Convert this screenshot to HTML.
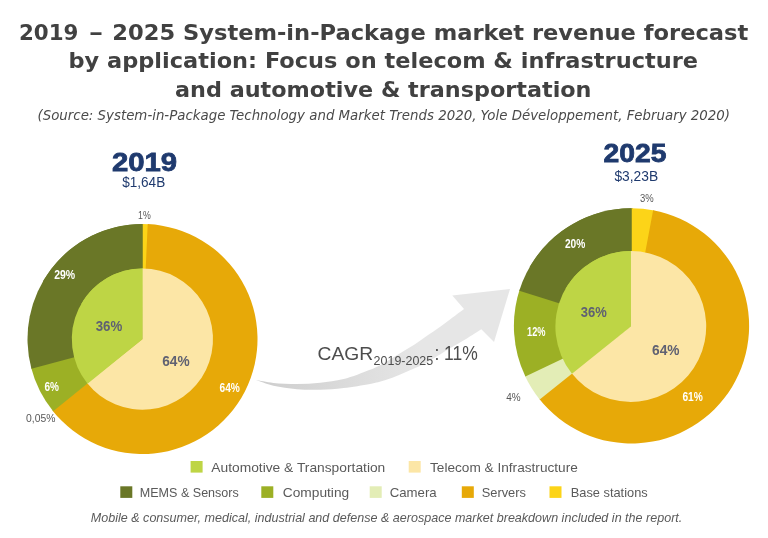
<!DOCTYPE html>
<html lang="en"><head><meta charset="utf-8"><title>System-in-Package market revenue forecast</title>
<style>
html,body{margin:0;padding:0;background:#fff;}
body{width:768px;height:538px;overflow:hidden;font-family:"Liberation Sans",sans-serif;}
svg{display:block;will-change:transform;}
</style></head><body>
<svg width="768" height="538" viewBox="0 0 768 538">
<rect width="768" height="538" fill="#fff"/>
<defs><linearGradient id="ag" gradientUnits="userSpaceOnUse" x1="255" y1="0" x2="420" y2="0"><stop offset="0" stop-color="#cdcdcd"/><stop offset="1" stop-color="#e6e6e6"/></linearGradient></defs><path fill="url(#ag)" d="M256 380 C258.9 380.5 266.6 382.2 273.4 382.9 C280.2 383.6 289.1 384.0 296.9 384.0 C304.7 384.0 312.5 383.5 320.3 382.7 C328.1 381.9 335.4 381.2 343.7 379.1 C352.0 377.0 363.1 372.6 370.0 369.8 C376.9 367.0 379.9 365.1 384.9 362.4 C389.8 359.7 394.8 356.5 399.7 353.5 C404.6 350.5 409.6 347.7 414.6 344.5 C419.6 341.3 424.6 337.6 429.5 334.1 C434.4 330.6 438.6 327.9 444.3 323.7 C450.1 319.5 460.7 311.4 464.0 309.0 L452.3 295.6 L510 289 L494 342 L481.3 329.3 C478.8 330.9 471.2 335.8 466.0 339.0 C460.8 342.2 456.1 344.7 450.0 348.3 C443.9 351.9 435.4 357.6 429.5 360.9 C423.6 364.2 419.6 366.0 414.6 368.3 C409.6 370.6 404.6 372.7 399.7 374.7 C394.8 376.7 389.8 378.7 384.9 380.2 C379.9 381.7 376.9 382.6 370.0 383.9 C363.1 385.2 352.0 387.0 343.7 388.0 C335.4 389.0 328.1 389.5 320.3 389.7 C312.5 389.9 304.7 389.9 296.9 389.2 C289.1 388.5 280.2 387.2 273.4 385.7 C266.6 384.2 258.9 380.9 256.0 380.0 Z"/>
<path d="M142.5 339L42.91 281.50A115 115 0 0 1 143.70 224.01Z" fill="#6a7727"/>
<path d="M142.5 339L142.50 224.00A115 115 0 0 1 148.92 224.18Z" fill="#fcd418"/>
<path d="M142.5 339L147.72 224.12A115 115 0 1 1 52.38 410.43Z" fill="#e7a908"/>
<path d="M142.5 339L53.13 411.37A115 115 0 0 1 31.11 367.60Z" fill="#9cb025"/>
<path d="M142.5 339L31.42 368.76A115 115 0 0 1 142.50 224.00Z" fill="#6a7727"/>
<path d="M142.4 339.2L81.26 303.90A70.6 70.6 0 0 1 143.14 268.60Z" fill="#bed545"/>
<path d="M142.4 339.2L142.40 268.60A70.6 70.6 0 1 1 87.07 383.05Z" fill="#fce6a6"/>
<path d="M142.4 339.2L87.53 383.63A70.6 70.6 0 0 1 142.40 268.60Z" fill="#bed545"/>
<path d="M631.5 325.9L529.66 267.10A117.6 117.6 0 0 1 632.73 208.31Z" fill="#6a7727"/>
<path d="M631.5 325.9L631.50 208.30A117.6 117.6 0 0 1 654.34 210.54Z" fill="#fcd418"/>
<path d="M631.5 325.9L653.13 210.31A117.6 117.6 0 1 1 538.96 398.46Z" fill="#e7a908"/>
<path d="M631.5 325.9L539.72 399.43A117.6 117.6 0 0 1 524.83 375.41Z" fill="#e3edb6"/>
<path d="M631.5 325.9L525.36 376.53A117.6 117.6 0 0 1 519.66 289.56Z" fill="#9cb025"/>
<path d="M631.5 325.9L519.28 290.73A117.6 117.6 0 0 1 631.50 208.30Z" fill="#6a7727"/>
<path d="M630.8 326.5L565.50 288.80A75.4 75.4 0 0 1 631.59 251.10Z" fill="#bed545"/>
<path d="M630.8 326.5L630.80 251.10A75.4 75.4 0 1 1 571.47 373.02Z" fill="#fce6a6"/>
<path d="M630.8 326.5L571.96 373.64A75.4 75.4 0 0 1 630.80 251.10Z" fill="#bed545"/>
<rect x="190.6" y="461" width="12" height="11.6" fill="#bed545"/>
<rect x="408.7" y="461" width="12" height="11.6" fill="#fce6a6"/>
<rect x="120.3" y="486.3" width="12" height="11.6" fill="#6a7727"/>
<rect x="261.3" y="486.3" width="12" height="11.6" fill="#9cb025"/>
<rect x="369.7" y="486.3" width="12" height="11.6" fill="#e3edb6"/>
<rect x="461.8" y="486.3" width="12" height="11.6" fill="#e7a908"/>
<rect x="549.5" y="486.3" width="12" height="11.6" fill="#fcd418"/>
<text y="40" font-family='"DejaVu Sans", "Liberation Sans", sans-serif' font-size="22" font-weight="bold" fill="#414141"><tspan x="19" textLength="59.5" lengthAdjust="spacingAndGlyphs">2019</tspan><tspan> </tspan><tspan x="89" textLength="14" lengthAdjust="spacingAndGlyphs">–</tspan><tspan> </tspan><tspan x="112.3" textLength="636" lengthAdjust="spacingAndGlyphs">2025 System-in-Package market revenue forecast</tspan></text>
<text x="68.5" y="68.4" font-family='"DejaVu Sans", "Liberation Sans", sans-serif' font-size="22" font-weight="bold" font-style="normal" fill="#414141" text-anchor="start" textLength="629.5" lengthAdjust="spacingAndGlyphs">by application: Focus on telecom &amp; infrastructure</text>
<text x="175" y="96.8" font-family='"DejaVu Sans", "Liberation Sans", sans-serif' font-size="22" font-weight="bold" font-style="normal" fill="#414141" text-anchor="start" textLength="416.5" lengthAdjust="spacingAndGlyphs">and automotive &amp; transportation</text>
<text x="37.5" y="119.8" font-family='"DejaVu Sans", "Liberation Sans", sans-serif' font-size="13.3" font-weight="normal" font-style="italic" fill="#4a4a4a" text-anchor="start" textLength="692.5" lengthAdjust="spacingAndGlyphs">(Source: System-in-Package Technology and Market Trends 2020, Yole Développement, February 2020)</text>
<text x="111.9" y="171.0" font-family='"Liberation Sans", sans-serif' font-size="26.5" font-weight="bold" font-style="normal" fill="#1f3a6e" text-anchor="start" textLength="65.2" lengthAdjust="spacingAndGlyphs" stroke="#1f3a6e" stroke-width="0.8">2019</text>
<text x="122.2" y="187" font-family='"Liberation Sans", sans-serif' font-size="14.3" font-weight="normal" font-style="normal" fill="#1f3a6e" text-anchor="start" textLength="43" lengthAdjust="spacingAndGlyphs">$1,64B</text>
<text x="603.4" y="162.0" font-family='"Liberation Sans", sans-serif' font-size="26.5" font-weight="bold" font-style="normal" fill="#1f3a6e" text-anchor="start" textLength="63" lengthAdjust="spacingAndGlyphs" stroke="#1f3a6e" stroke-width="0.8">2025</text>
<text x="614.4" y="180.9" font-family='"Liberation Sans", sans-serif' font-size="14.3" font-weight="normal" font-style="normal" fill="#1f3a6e" text-anchor="start" textLength="43.7" lengthAdjust="spacingAndGlyphs">$3,23B</text>
<text x="317.6" y="360.3" font-family='"Liberation Sans", sans-serif' font-size="18.5" font-weight="normal" font-style="normal" fill="#4d4d4d" text-anchor="start" textLength="55.6" lengthAdjust="spacingAndGlyphs">CAGR</text>
<text x="373.6" y="364.6" font-family='"Liberation Sans", sans-serif' font-size="13.2" font-weight="normal" font-style="normal" fill="#4d4d4d" text-anchor="start" textLength="59.6" lengthAdjust="spacingAndGlyphs">2019-2025</text>
<text x="434.4" y="360.3" font-family='"Liberation Sans", sans-serif' font-size="19.8" font-weight="normal" font-style="normal" fill="#4d4d4d" text-anchor="start" textLength="43.4" lengthAdjust="spacingAndGlyphs">: 11%</text>
<text x="138" y="218.5" font-family='"Liberation Sans", sans-serif' font-size="11.5" font-weight="normal" font-style="normal" fill="#585858" text-anchor="start" textLength="12.7" lengthAdjust="spacingAndGlyphs">1%</text>
<text x="54.2" y="278.7" font-family='"Liberation Sans", sans-serif' font-size="12" font-weight="bold" font-style="normal" fill="#fff" text-anchor="start" textLength="21" lengthAdjust="spacingAndGlyphs">29%</text>
<text x="95.7" y="330.6" font-family='"Liberation Sans", sans-serif' font-size="14" font-weight="bold" font-style="normal" fill="#5f6172" text-anchor="start" textLength="26.6" lengthAdjust="spacingAndGlyphs">36%</text>
<text x="162.2" y="366.2" font-family='"Liberation Sans", sans-serif' font-size="14" font-weight="bold" font-style="normal" fill="#5f6172" text-anchor="start" textLength="27.4" lengthAdjust="spacingAndGlyphs">64%</text>
<text x="219.5" y="392.2" font-family='"Liberation Sans", sans-serif' font-size="12" font-weight="bold" font-style="normal" fill="#fff" text-anchor="start" textLength="20.4" lengthAdjust="spacingAndGlyphs">64%</text>
<text x="44.5" y="391.3" font-family='"Liberation Sans", sans-serif' font-size="12" font-weight="bold" font-style="normal" fill="#fff" text-anchor="start" textLength="14.5" lengthAdjust="spacingAndGlyphs">6%</text>
<text x="26" y="422" font-family='"Liberation Sans", sans-serif' font-size="11.5" font-weight="normal" font-style="normal" fill="#585858" text-anchor="start" textLength="29.4" lengthAdjust="spacingAndGlyphs">0,05%</text>
<text x="640.1" y="201.5" font-family='"Liberation Sans", sans-serif' font-size="11.5" font-weight="normal" font-style="normal" fill="#585858" text-anchor="start" textLength="13.7" lengthAdjust="spacingAndGlyphs">3%</text>
<text x="564.9" y="248.2" font-family='"Liberation Sans", sans-serif' font-size="12" font-weight="bold" font-style="normal" fill="#fff" text-anchor="start" textLength="20.4" lengthAdjust="spacingAndGlyphs">20%</text>
<text x="527" y="335.8" font-family='"Liberation Sans", sans-serif' font-size="12" font-weight="bold" font-style="normal" fill="#fff" text-anchor="start" textLength="18.5" lengthAdjust="spacingAndGlyphs">12%</text>
<text x="580.7" y="317" font-family='"Liberation Sans", sans-serif' font-size="14" font-weight="bold" font-style="normal" fill="#5f6172" text-anchor="start" textLength="26" lengthAdjust="spacingAndGlyphs">36%</text>
<text x="652.1" y="355.1" font-family='"Liberation Sans", sans-serif' font-size="14" font-weight="bold" font-style="normal" fill="#5f6172" text-anchor="start" textLength="27.5" lengthAdjust="spacingAndGlyphs">64%</text>
<text x="682.4" y="401" font-family='"Liberation Sans", sans-serif' font-size="12" font-weight="bold" font-style="normal" fill="#fff" text-anchor="start" textLength="20.4" lengthAdjust="spacingAndGlyphs">61%</text>
<text x="506.2" y="401.4" font-family='"Liberation Sans", sans-serif' font-size="11.5" font-weight="normal" font-style="normal" fill="#585858" text-anchor="start" textLength="14.4" lengthAdjust="spacingAndGlyphs">4%</text>
<text x="211.3" y="471.6" font-family='"Liberation Sans", sans-serif' font-size="13.6" font-weight="normal" font-style="normal" fill="#5a5a5a" text-anchor="start" textLength="174" lengthAdjust="spacingAndGlyphs">Automotive &amp; Transportation</text>
<text x="430" y="471.6" font-family='"Liberation Sans", sans-serif' font-size="13.6" font-weight="normal" font-style="normal" fill="#5a5a5a" text-anchor="start" textLength="147.8" lengthAdjust="spacingAndGlyphs">Telecom &amp; Infrastructure</text>
<text x="139.8" y="496.9" font-family='"Liberation Sans", sans-serif' font-size="13.6" font-weight="normal" font-style="normal" fill="#5a5a5a" text-anchor="start" textLength="99" lengthAdjust="spacingAndGlyphs">MEMS &amp; Sensors</text>
<text x="282.8" y="496.9" font-family='"Liberation Sans", sans-serif' font-size="13.6" font-weight="normal" font-style="normal" fill="#5a5a5a" text-anchor="start" textLength="66.4" lengthAdjust="spacingAndGlyphs">Computing</text>
<text x="389.7" y="496.9" font-family='"Liberation Sans", sans-serif' font-size="13.6" font-weight="normal" font-style="normal" fill="#5a5a5a" text-anchor="start" textLength="47" lengthAdjust="spacingAndGlyphs">Camera</text>
<text x="481.7" y="496.9" font-family='"Liberation Sans", sans-serif' font-size="13.6" font-weight="normal" font-style="normal" fill="#5a5a5a" text-anchor="start" textLength="44.3" lengthAdjust="spacingAndGlyphs">Servers</text>
<text x="570.7" y="496.9" font-family='"Liberation Sans", sans-serif' font-size="13.6" font-weight="normal" font-style="normal" fill="#5a5a5a" text-anchor="start" textLength="77" lengthAdjust="spacingAndGlyphs">Base stations</text>
<text x="90.8" y="521.7" font-family='"Liberation Sans", sans-serif' font-size="12.8" font-weight="normal" font-style="italic" fill="#5a5a5a" text-anchor="start" textLength="591.5" lengthAdjust="spacingAndGlyphs">Mobile &amp; consumer, medical, industrial and defense &amp; aerospace market breakdown included in the report.</text>
</svg>
</body></html>
